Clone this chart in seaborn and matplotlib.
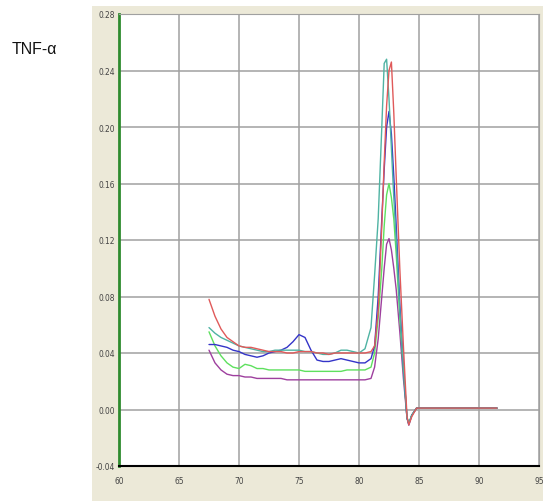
import numpy as np
import pandas as pd
import matplotlib
matplotlib.use("Agg")
import matplotlib.pyplot as plt
from matplotlib.patches import Rectangle
import seaborn as sns

temps = [67.5, 68.0, 68.5, 69.0, 69.5, 70.0, 70.5, 71.0, 71.5, 72.0, 72.5, 73.0, 73.5, 74.0,
         74.5, 75.0, 75.5, 76.0, 76.5, 77.0, 77.5, 78.0, 78.5, 79.0, 79.5, 80.0, 80.5, 81.0,
         81.3, 81.6, 81.9, 82.1, 82.3, 82.5, 82.7, 82.9, 83.1, 83.4, 83.7, 84.0, 84.15, 84.4,
         84.8, 85.5, 86.5, 87.5, 88.5, 89.5, 90.5, 91.5]

red = [0.078, 0.066, 0.057, 0.051, 0.048, 0.045, 0.044, 0.044, 0.043, 0.042, 0.041, 0.041, 0.041, 0.040,
       0.040, 0.041, 0.041, 0.041, 0.040, 0.040, 0.039, 0.040, 0.040, 0.040, 0.040, 0.040, 0.040, 0.041,
       0.045, 0.070, 0.130, 0.175, 0.215, 0.240, 0.246, 0.210, 0.165, 0.100, 0.045, -0.005, -0.011, -0.005,
       0.001, 0.001, 0.001, 0.001, 0.001, 0.001, 0.001, 0.001]
teal = [0.058, 0.054, 0.051, 0.049, 0.047, 0.045, 0.044, 0.043, 0.042, 0.041, 0.041, 0.042, 0.042, 0.042,
        0.042, 0.042, 0.041, 0.041, 0.040, 0.039, 0.039, 0.040, 0.042, 0.042, 0.041, 0.040, 0.043, 0.058,
        0.095, 0.135, 0.200, 0.245, 0.248, 0.220, 0.185, 0.150, 0.120, 0.070, 0.030, -0.006, -0.010, -0.004,
        0.001, 0.001, 0.001, 0.001, 0.001, 0.001, 0.001, 0.001]
blue = [0.046, 0.046, 0.045, 0.044, 0.042, 0.041, 0.039, 0.038, 0.037, 0.038, 0.040, 0.041, 0.042, 0.044,
        0.048, 0.053, 0.051, 0.042, 0.035, 0.034, 0.034, 0.035, 0.036, 0.035, 0.034, 0.033, 0.033, 0.036,
        0.045, 0.080, 0.135, 0.170, 0.200, 0.211, 0.195, 0.165, 0.130, 0.075, 0.030, -0.006, -0.011, -0.004,
        0.001, 0.001, 0.001, 0.001, 0.001, 0.001, 0.001, 0.001]
green = [0.055, 0.045, 0.038, 0.033, 0.030, 0.029, 0.032, 0.031, 0.029, 0.029, 0.028, 0.028, 0.028, 0.028,
         0.028, 0.028, 0.027, 0.027, 0.027, 0.027, 0.027, 0.027, 0.027, 0.028, 0.028, 0.028, 0.028, 0.030,
         0.040, 0.065, 0.100, 0.130, 0.152, 0.160, 0.150, 0.135, 0.110, 0.065, 0.028, -0.006, -0.010, -0.004,
         0.001, 0.001, 0.001, 0.001, 0.001, 0.001, 0.001, 0.001]
purple = [0.042, 0.033, 0.028, 0.025, 0.024, 0.024, 0.023, 0.023, 0.022, 0.022, 0.022, 0.022, 0.022, 0.021,
          0.021, 0.021, 0.021, 0.021, 0.021, 0.021, 0.021, 0.021, 0.021, 0.021, 0.021, 0.021, 0.021, 0.022,
          0.030, 0.050, 0.080, 0.100, 0.117, 0.121, 0.113, 0.100, 0.085, 0.055, 0.022, -0.006, -0.010, -0.004,
          0.001, 0.001, 0.001, 0.001, 0.001, 0.001, 0.001, 0.001]

series = {"purple": purple, "green": green, "blue": blue, "teal": teal, "red": red}
colors = {"red": "#e05a5a", "teal": "#4fb3a3", "blue": "#3434c8", "green": "#5ee05e", "purple": "#9e3f9e"}

xticks = [60, 65, 70, 75, 80, 85, 90, 95]
yticks = [-0.04, 0.00, 0.04, 0.08, 0.12, 0.16, 0.20, 0.24, 0.28]
ytick_labels = ["-0.04", "0.00", "0.04", "0.08", "0.12", "0.16", "0.20", "0.24", "0.28"]
title = "TNF-\u03b1"

rows = []
for name, vals in series.items():
    for t, v in zip(temps, vals):
        rows.append({"temp": t, "value": v, "sample": name})
df = pd.DataFrame(rows)

sns.set_style("white")
plt.rcParams["font.family"] = ["DejaVu Sans"]

W, H = 543, 502
fig = plt.figure(figsize=(W / 100, H / 100), dpi=100, facecolor="white")
bg = Rectangle((92 / W, 0), 1 - 92 / W, 1 - 7 / H, transform=fig.transFigure,
               facecolor="#ece9d8", edgecolor="none", zorder=-10)
fig.add_artist(bg)

left, right, top, bottom = 119 / W, 539 / W, 15 / H, 467 / H
ax = fig.add_axes([left, 1 - bottom, right - left, bottom - top])
ax.set_zorder(1)
ax.set_facecolor("white")

sns.lineplot(data=df, x="temp", y="value", hue="sample", palette=colors, estimator=None,
             sort=False, legend=False, linewidth=1.0, ax=ax)

ax.set_xlim(60, 95)
ax.set_ylim(-0.04, 0.28)
ax.set_xticks(xticks)
ax.set_xticklabels([str(t) for t in xticks])
ax.set_yticks(yticks)
ax.set_yticklabels(ytick_labels)
ax.set_xlabel("")
ax.set_ylabel("")
ax.grid(True, color="#a0a0a0", linewidth=1.1)
ax.set_axisbelow(True)
ax.tick_params(axis="both", length=0, labelsize=6, labelcolor="#444444")
ax.tick_params(axis="x", pad=7)
ax.tick_params(axis="y", pad=3)
for lbl in ax.get_xticklabels() + ax.get_yticklabels():
    lbl.set_fontstretch("condensed")

ax.spines["left"].set_color("#2e8b2e")
ax.spines["left"].set_linewidth(2)
ax.spines["bottom"].set_color("black")
ax.spines["bottom"].set_linewidth(1.5)
ax.spines["top"].set_color("#a0a0a0")
ax.spines["right"].set_color("#a0a0a0")
for s in ["top", "right", "left", "bottom"]:
    ax.spines[s].set_visible(True)

fig.text(12 / W, 1 - 49 / H, title, fontsize=11.5, family=["Liberation Sans", "DejaVu Sans"],
         color="#111111", ha="left", va="center")

fig.savefig("out.png", dpi=100, facecolor="white")
